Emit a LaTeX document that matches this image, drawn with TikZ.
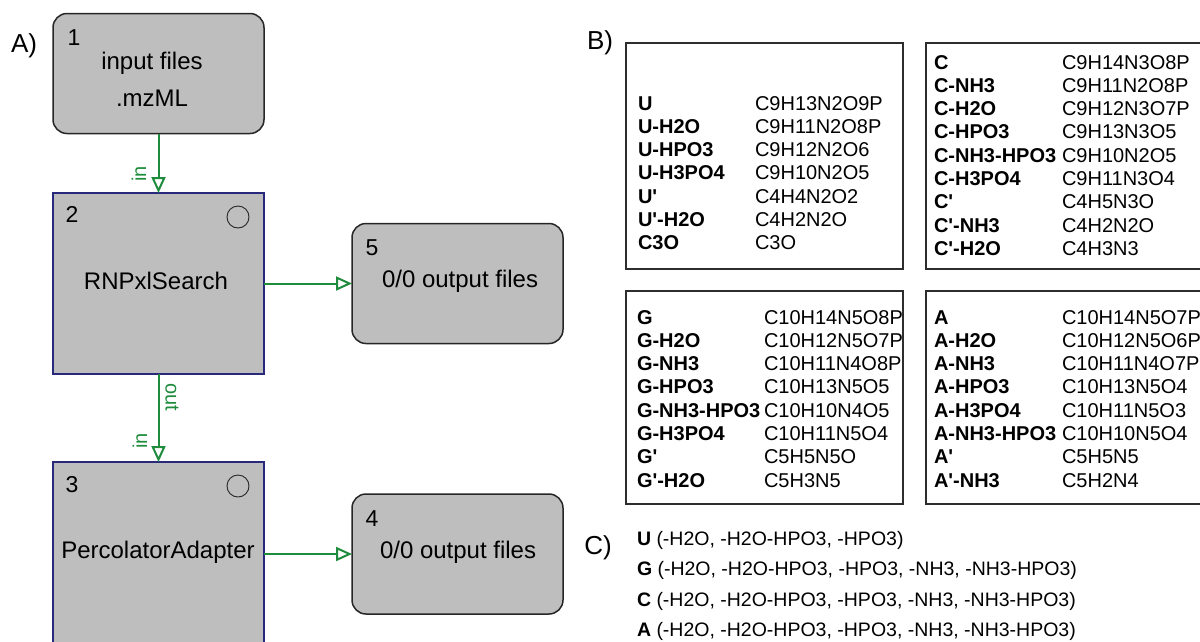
\documentclass[tikz,border=0pt]{standalone}
\usepackage{fontspec}
\setmainfont{Liberation Sans}
\usetikzlibrary{arrows.meta}
\definecolor{boxgray}{RGB}{190,190,190}
\definecolor{navyline}{RGB}{40,40,125}
\definecolor{egreen}{RGB}{30,140,60}
\definecolor{framecol}{RGB}{45,45,45}
\newcommand{\myq}{\textquotesingle}
\begin{document}
\begin{tikzpicture}[x=1pt,y=-1pt,
  every node/.style={inner sep=0pt, outer sep=0pt},
  font=\fontsize{24}{28}\selectfont,
  filebox/.style={draw=black!85, line width=1.5pt, fill=boxgray, rounded corners=14pt,
    minimum width=211pt, minimum height=120pt},
  toolbox/.style={draw=navyline, line width=2pt, fill=boxgray,
    minimum width=211pt, minimum height=181pt},
  flow/.style={draw=egreen, line width=2pt,
    -{Triangle[open, length=16pt, width=14pt, line width=2pt]}},
  lbl/.style={text=egreen, font=\fontsize{20}{24}\selectfont},
  numtxt/.style={anchor=base, font=\fontsize{23}{27}\selectfont},
  boxtxt/.style={anchor=base},
  statecirc/.style={draw=black!85, circle, minimum size=22pt, line width=0.9pt},
  panel/.style={font=\fontsize{26}{30}\selectfont},
  frameline/.style={draw=framecol, line width=2pt},
  tbl/.style={anchor=base west, font=\fontsize{20}{23.33}\selectfont},
  listtxt/.style={anchor=base west, font=\fontsize{19.5}{30.5}\selectfont}
]
\useasboundingbox (0,0) rectangle (1200,641);

% ---------- Panel A ----------
\node[panel] (labA) at (24,46) {A)};

\node[filebox] (n1) at (158.5,73.5) {};
\node[toolbox] (n2) at (158.5,283.5) {};
\node[toolbox] (n3) at (158.5,552.5) {};
\node[filebox] (n5) at (457.5,283.5) {};
\node[filebox] (n4) at (457.5,554) {};

\node[numtxt] (n1num) at (74,45) {1};
\node[boxtxt] (n1a) at (152,69) {input files};
\node[boxtxt] (n1b) at (152,106) {.mzML};

\node[numtxt] (n2num) at (72,222) {2};
\node[statecirc] (c2) at (238,217) {};
\node[boxtxt] (n2t) at (156,289) {RNPxlSearch};

\node[numtxt] (n3num) at (72,492) {3};
\node[statecirc] (c3) at (238,486) {};
\node[boxtxt] (n3t) at (158,558) {PercolatorAdapter};

\node[numtxt] (n5num) at (372,255) {5};
\node[boxtxt, anchor=base west] (n5t) at (382,287) {0/0 output files};

\node[numtxt] (n4num) at (372,526) {4};
\node[boxtxt, anchor=base west] (n4t) at (380,558) {0/0 output files};

\draw[flow] (n1.south) -- (n2.north);
\draw[flow] (n2.east) -- (n5.west);
\draw[flow] (n2.south) -- (n3.north);
\draw[flow] (n3.east |- n4.west) -- (n4.west);

\node[lbl, rotate=90] (lin1) at (139,174) {in};
\node[lbl, rotate=-90] (lout) at (172,397) {out};
\node[lbl, rotate=90] (lin2) at (140,441) {in};

% ---------- Panel B ----------
\node[panel] (labB) at (600,43) {B)};

\draw[frameline] (626,43) rectangle (903,269);
\draw[frameline] (1206,43) -- (926,43) -- (926,269) -- (1206,269);
\draw[frameline] (626,291) rectangle (903,504);
\draw[frameline] (1206,291) -- (926,291) -- (926,504) -- (1206,504);

\node[tbl] (tU) at (638,110) {\begin{tabular}[t]{@{}p{117pt}@{}l@{}}
\textbf{U} & C9H13N2O9P\\
\textbf{U-H2O} & C9H11N2O8P\\
\textbf{U-HPO3} & C9H12N2O6\\
\textbf{U-H3PO4} & C9H10N2O5\\
\textbf{U\myq} & C4H4N2O2\\
\textbf{U\myq-H2O} & C4H2N2O\\
\textbf{C3O} & C3O
\end{tabular}};

\node[tbl] (tC) at (934,69) {\begin{tabular}[t]{@{}p{128pt}@{}l@{}}
\textbf{C} & C9H14N3O8P\\
\textbf{C-NH3} & C9H11N2O8P\\
\textbf{C-H2O} & C9H12N3O7P\\
\textbf{C-HPO3} & C9H13N3O5\\
\textbf{C-NH3-HPO3} & C9H10N2O5\\
\textbf{C-H3PO4} & C9H11N3O4\\
\textbf{C\myq} & C4H5N3O\\
\textbf{C\myq-NH3} & C4H2N2O\\
\textbf{C\myq-H2O} & C4H3N3
\end{tabular}};

\node[tbl] (tG) at (637,324) {\begin{tabular}[t]{@{}p{127pt}@{}l@{}}
\textbf{G} & C10H14N5O8P\\
\textbf{G-H2O} & C10H12N5O7P\\
\textbf{G-NH3} & C10H11N4O8P\\
\textbf{G-HPO3} & C10H13N5O5\\
\textbf{G-NH3-HPO3} & C10H10N4O5\\
\textbf{G-H3PO4} & C10H11N5O4\\
\textbf{G\myq} & C5H5N5O\\
\textbf{G\myq-H2O} & C5H3N5
\end{tabular}};

\node[tbl] (tA) at (934,324) {\begin{tabular}[t]{@{}p{128pt}@{}l@{}}
\textbf{A} & C10H14N5O7P\\
\textbf{A-H2O} & C10H12N5O6P\\
\textbf{A-NH3} & C10H11N4O7P\\
\textbf{A-HPO3} & C10H13N5O4\\
\textbf{A-H3PO4} & C10H11N5O3\\
\textbf{A-NH3-HPO3} & C10H10N5O4\\
\textbf{A\myq} & C5H5N5\\
\textbf{A\myq-NH3} & C5H2N4
\end{tabular}};

% ---------- Panel C ----------
\node[panel] (labC) at (598,548) {C)};
\node[listtxt] (lst) at (637,545) {\begin{tabular}[t]{@{}l@{}}
\textbf{U} (-H2O, -H2O-HPO3, -HPO3)\\
\textbf{G} (-H2O, -H2O-HPO3, -HPO3, -NH3, -NH3-HPO3)\\
\textbf{C} (-H2O, -H2O-HPO3, -HPO3, -NH3, -NH3-HPO3)\\
\textbf{A} (-H2O, -H2O-HPO3, -HPO3, -NH3, -NH3-HPO3)
\end{tabular}};
\end{tikzpicture}
\end{document}
